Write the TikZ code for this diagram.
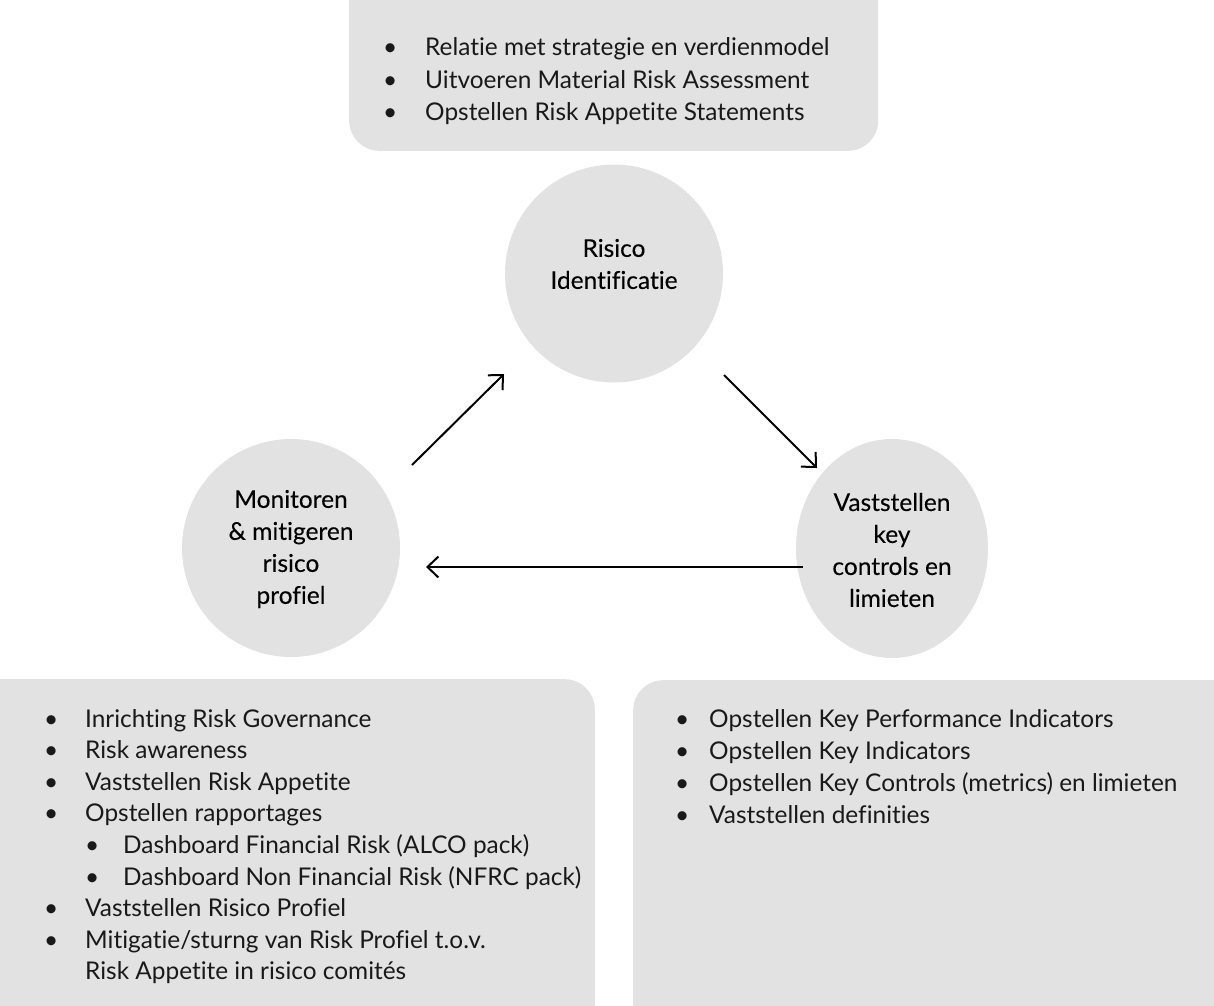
\documentclass[tikz,border=0pt]{standalone}
\usepackage{fontspec}
\setmainfont[Ligatures=NoCommon]{Lato}
\newfontfamily\circfont[Ligatures=NoCommon,FakeBold=0.15]{Lato}
\usetikzlibrary{arrows.meta,shapes.geometric}
\definecolor{boxfill}{RGB}{226,226,226}
\definecolor{ink}{RGB}{25,25,25}
\newcommand{\bulletitem}[2]{\makebox[#1][l]{•}#2}
\begin{document}
\begin{tikzpicture}[x=1pt,y=-1pt,
  panel/.style={fill=boxfill, draw=none, rounded corners=30pt, inner sep=0pt},
  bubble/.style={circle, fill=boxfill, draw=none, minimum size=218pt, inner sep=0pt},
  ovalbubble/.style={ellipse, fill=boxfill, draw=none, minimum width=192pt, minimum height=219pt, inner sep=0pt},
  ctext/.style={align=center, font=\circfont\fontsize{24.5}{32}\selectfont, text=black, inner sep=0pt},
  item/.style={anchor=base west, font=\fontsize{24.4}{32}\selectfont, text=ink, inner sep=0pt},
  flow/.style={draw=black, line width=2pt, -{Straight Barb[length=11pt,width=21pt,line width=2pt]}}
]
\useasboundingbox (0,0) rectangle (1214,1005);
\begin{scope}
\clip (0,0) rectangle (1214,1005);
\node[panel, minimum width=529pt, minimum height=211pt, anchor=south west] (topbox) at (349,151) {};
\node[panel, minimum width=655pt, minimum height=386pt, anchor=north east] (leftbox) at (595,679) {};
\node[panel, minimum width=641pt, minimum height=386pt, anchor=north west] (rightbox) at (633,680) {};
\end{scope}

% circles
\node[bubble] (ident) at (614,273.5) {};
\node[bubble] (monitor) at (291,548) {};
\node[ovalbubble] (controls) at (892,548.5) {};

\node[ctext] (identtxt) at (614,264) {Risico\\Identificatie};
\node[ctext] (monitortxt) at (291,549) {Monitoren\\\& mitigeren\\risico\\profiel};
\node[ctext] (controlstxt) at (892,550) {Vaststellen\\key\\controls en\\limieten};

% arrows
\coordinate (a1s) at (412,465);
\coordinate (a1e) at (504,374);
\coordinate (a2s) at (724,375);
\coordinate (a2e) at (817,468);
\coordinate (a3s) at (803,567);
\coordinate (a3e) at (426,567);
\draw[flow] (a1s) -- (a1e);
\draw[flow] (a2s) -- (a2e);
\draw[flow] (a3s) -- (a3e);

% top list
\node[item] (t1) at (383,55) {\bulletitem{42pt}{Relatie met strategie en verdienmodel}};
\node[item] (t2) at (383,88) {\bulletitem{42pt}{Uitvoeren Material Risk Assessment}};
\node[item] (t3) at (383,120) {\bulletitem{42pt}{Opstellen Risk Appetite Statements}};

% left list
\node[item] (l1) at (44,727) {\bulletitem{41pt}{Inrichting Risk Governance}};
\node[item] (l2) at (44,758.6) {\bulletitem{41pt}{Risk awareness}};
\node[item] (l3) at (44,790.2) {\bulletitem{41pt}{Vaststellen Risk Appetite}};
\node[item] (l4) at (44,821.8) {\bulletitem{41pt}{Opstellen rapportages}};
\node[item] (l5) at (85,853.4) {\bulletitem{38pt}{Dashboard Financial Risk (ALCO pack)}};
\node[item] (l6) at (85,885) {\bulletitem{38pt}{Dashboard Non Financial Risk (NFRC pack)}};
\node[item] (l7) at (44,916.6) {\bulletitem{41pt}{Vaststellen Risico Profiel}};
\node[item] (l8) at (44,948.2) {\bulletitem{41pt}{Mitigatie/sturng van Risk Profiel t.o.v.}};
\node[item] (l9) at (85,979.8) {Risk Appetite in risico comités};

% right list
\node[item] (r1) at (675,727) {\bulletitem{34pt}{Opstellen Key Performance Indicators}};
\node[item] (r2) at (675,759) {\bulletitem{34pt}{Opstellen Key Indicators}};
\node[item] (r3) at (675,791) {\bulletitem{34pt}{Opstellen Key Controls (metrics) en limieten}};
\node[item] (r4) at (675,823) {\bulletitem{34pt}{Vaststellen definities}};
\end{tikzpicture}
\end{document}
